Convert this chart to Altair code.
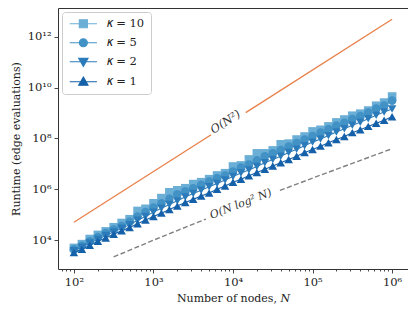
import altair as alt
import pandas as pd

# ---------------- data ----------------
N = [100, 126, 158, 200, 251, 316, 398, 501, 631, 794,
     1000, 1259, 1585, 1995, 2512, 3162, 3981, 5012, 6310, 7943,
     10000, 12589, 15849, 19953, 25119, 31623, 39811, 50119, 63096, 79433,
     100000, 125893, 158489, 199526, 251189, 316228, 398107, 501187, 630957, 794328,
     1000000]

k10 = [4.9e3, 6.9e3, 1.1e4, 1.6e4, 2.2e4, 3.2e4, 4.7e4, 6.6e4, 1.4e5, 1.7e5,
       2.8e5, 4.5e5, 7.6e5, 9.1e5, 1.1e6, 1.6e6, 1.9e6, 2.5e6, 3.5e6, 4.3e6,
       7.9e6, 8.7e6, 1.5e7, 2.6e7, 2.6e7, 3.4e7, 5.9e7, 6.3e7, 9.1e7, 1.2e8,
       1.9e8, 2.2e8, 3.0e8, 4.3e8, 5.6e8, 7.9e8, 9.5e8, 1.26e9, 1.95e9, 2.6e9,
       4.5e9]
k5 = [4.3e3, 5.9e3, 8.9e3, 1.3e4, 1.9e4, 2.6e4, 3.6e4, 5.2e4, 8.5e4, 1.26e5,
      1.9e5, 2.8e5, 4.2e5, 6.3e5, 8.3e5, 1.1e6, 1.5e6, 2.0e6, 2.7e6, 3.5e6,
      5.0e6, 7.1e6, 9.5e6, 1.4e7, 2.0e7, 2.6e7, 3.5e7, 4.8e7, 6.6e7, 9.1e7,
      1.26e8, 1.7e8, 2.3e8, 3.2e8, 4.2e8, 5.8e8, 7.6e8, 1.05e9, 1.5e9, 2.0e9,
      3.1e9]
k2 = [3.8e3, 5.2e3, 7.6e3, 1.07e4, 1.5e4, 2.1e4, 2.9e4, 4.0e4, 6.0e4, 8.5e4,
      1.26e5, 1.8e5, 2.5e5, 3.5e5, 5.0e5, 6.8e5, 9.1e5, 1.26e6, 1.7e6, 2.3e6,
      3.2e6, 4.4e6, 5.8e6, 7.9e6, 1.1e7, 1.5e7, 2.0e7, 2.8e7, 3.8e7, 5.2e7,
      7.2e7, 9.5e7, 1.3e8, 1.8e8, 2.4e8, 3.3e8, 4.4e8, 6.0e8, 8.3e8, 1.1e9,
      1.45e9]
k1 = [3.2e3, 4.3e3, 6.3e3, 8.9e3, 1.2e4, 1.7e4, 2.3e4, 3.1e4, 4.4e4, 6.2e4,
      8.5e4, 1.15e5, 1.6e5, 2.2e5, 3.0e5, 4.0e5, 5.4e5, 7.2e5, 1.0e6, 1.35e6,
      1.9e6, 2.5e6, 3.4e6, 4.6e6, 6.2e6, 8.3e6, 1.1e7, 1.5e7, 2.0e7, 2.8e7,
      3.7e7, 5.0e7, 6.8e7, 9.1e7, 1.2e8, 1.7e8, 2.2e8, 3.0e8, 4.0e8, 5.2e8,
      7.2e8]

labels = ["\U0001D705 = 10", "\U0001D705 = 5", "\U0001D705 = 2", "\U0001D705 = 1"]
series = [k10, k5, k2, k1]
colors = ["#6baed6", "#4292c6", "#2b7bba", "#1561a9"]
shapes = ["square", "circle", "triangle-down", "triangle-up"]
legend_paths = [
    "M-1,0H5.8M1.4,-1H3.4V1H1.4Z",
    "M-1,0H5.8M3.4,0A1,1,0,1,1,1.4,0A1,1,0,1,1,3.4,0Z",
    "M-1,0H5.8M1.25,-0.85H3.55L2.4,1.15Z",
    "M-1,0H5.8M2.4,-1.15L3.55,0.85H1.25Z",
]

# reference guides
sq_N = [100, 5309, 14454, 1000000]
sq_val = [5.0e4, 1.41e8, 1.047e9, 5.0e12]
sq_seg = [0, 0, 1, 1]
nl_N = [316, 1000, 3162, 4571, 38905, 100000, 316228, 1000000]
nl_val = [2.17e3, 9.9e3, 4.26e4, 6.7e4, 9.0e5, 2.75e6, 1.05e7, 3.95e7]
nl_seg = [0, 0, 0, 0, 1, 1, 1, 1]

ann_sq = {"N": [8128], "runtime": [4.27e8], "t": ["O(N\u00b2)"]}
ann_nl = {"N": [12589], "runtime": [2.57e5], "t": ["O(N log\u00b2 N)"]}

x_ticks = [70, 80, 90] + [m * 10 ** e for e in range(2, 6) for m in range(1, 10)] + [1000000]
y_ticks = [1e4, 1e6, 1e8, 1e10, 1e12]

# ---------------- build ----------------
rows = []
for lab, vals in zip(labels, series):
    for n, v in zip(N, vals):
        rows.append({"N": n, "runtime": v, "kappa": lab})
df = pd.DataFrame(rows)

FONT = "DejaVu Serif"
e = "round(log(datum.value)/LN10)"
sup_arr = "['\u2070','\u00b9','\u00b2','\u00b3','\u2074','\u2075','\u2076','\u2077','\u2078','\u2079']"
major = f"abs(log(datum.value)/LN10 - {e}) < 0.001"
label_expr = f"{major} ? '10' + ({e} >= 10 ? '\u00b9' : '') + {sup_arr}[{e} % 10] : ''"

xscale = alt.Scale(type="log", domain=[10 ** 1.8, 10 ** 6.2], nice=False)
yscale = alt.Scale(type="log", domain=[10 ** 2.86, 10 ** 13.14], nice=False)
xaxis = alt.Axis(values=x_ticks, labelExpr=label_expr, grid=False, domain=False,
                 tickSize={"condition": {"test": major, "value": 4}, "value": 2},
                 labelOverlap=False, labelFlush=False, labelPadding=3,
                 title="Number of nodes, \U0001D441", titlePadding=5)
yaxis = alt.Axis(values=y_ticks, labelExpr=label_expr, grid=False, domain=False,
                 tickSize=4, labelOverlap=False, labelFlush=False, labelPadding=3,
                 title="Runtime (edge evaluations)", titlePadding=6)

X = alt.X("N:Q", scale=xscale, axis=xaxis)
Y = alt.Y("runtime:Q", scale=yscale, axis=yaxis)
cscale = alt.Scale(domain=labels, range=colors)

leg = alt.Legend(title=None, orient="top-left", offset=4, padding=6,
                 strokeColor="#cccccc", fillColor="white", cornerRadius=3,
                 symbolSize=64, symbolOpacity=1, symbolStrokeWidth=1.2,
                 labelFont=FONT, labelFontSize=11.5,
                 labelColor="#222", labelOffset=27, rowPadding=5)

layers = []
sq_df = pd.DataFrame({"N": sq_N, "runtime": sq_val, "seg": sq_seg})
layers.append(alt.Chart(sq_df).mark_line(color="#e8804a", strokeWidth=1.3).encode(
    x=X, y=Y, detail="seg:N"))
nl_df = pd.DataFrame({"N": nl_N, "runtime": nl_val, "seg": nl_seg})
layers.append(alt.Chart(nl_df).mark_line(color="#808080", strokeWidth=1.4, strokeDash=[5, 2.5]).encode(
    x=X, y=Y, detail="seg:N"))

for lab, shp in zip(labels, shapes):
    sub = df[df.kappa == lab]
    layers.append(alt.Chart(sub).mark_line(strokeWidth=1.1).encode(
        x=X, y=Y, color=alt.Color("kappa:N", scale=cscale, legend=leg, sort=labels)))
    layers.append(alt.Chart(sub).mark_point(shape=shp, filled=True, size=74, opacity=1).encode(
        x=X, y=Y, color=alt.Color("kappa:N", scale=cscale, legend=leg, sort=labels)))

layers.append(alt.Chart(df).mark_point(filled=True, opacity=0).encode(
    x=X, y=Y,
    color=alt.Color("kappa:N", scale=cscale, legend=leg, sort=labels),
    stroke=alt.Stroke("kappa:N", scale=alt.Scale(domain=labels, range=colors), legend=leg, sort=labels),
    shape=alt.Shape("kappa:N", scale=alt.Scale(domain=labels, range=legend_paths), legend=leg, sort=labels)))

layers.append(alt.Chart(pd.DataFrame(ann_sq)).mark_text(
    angle=327.4, font=FONT, fontStyle="italic", fontSize=11.5, color="#333").encode(x=X, y=Y, text="t:N"))
layers.append(alt.Chart(pd.DataFrame(ann_nl)).mark_text(
    angle=338.8, font=FONT, fontStyle="italic", fontSize=11, color="#333").encode(x=X, y=Y, text="t:N"))

chart = alt.layer(*layers).properties(
    width=350, height=261,
    autosize=alt.AutoSizeParams(type="none"),
    padding={"left": 50, "top": 0, "right": 0, "bottom": 36},
).configure_view(stroke="#333", strokeWidth=1).configure_axis(
    labelFont=FONT, labelFontSize=11.5, labelColor="#222", titleFont=FONT, titleFontSize=11,
    titleFontWeight="normal", titleColor="#222", tickColor="#333", tickWidth=0.9)

chart.save("out.html", embed_options={"renderer": "svg", "actions": False})
